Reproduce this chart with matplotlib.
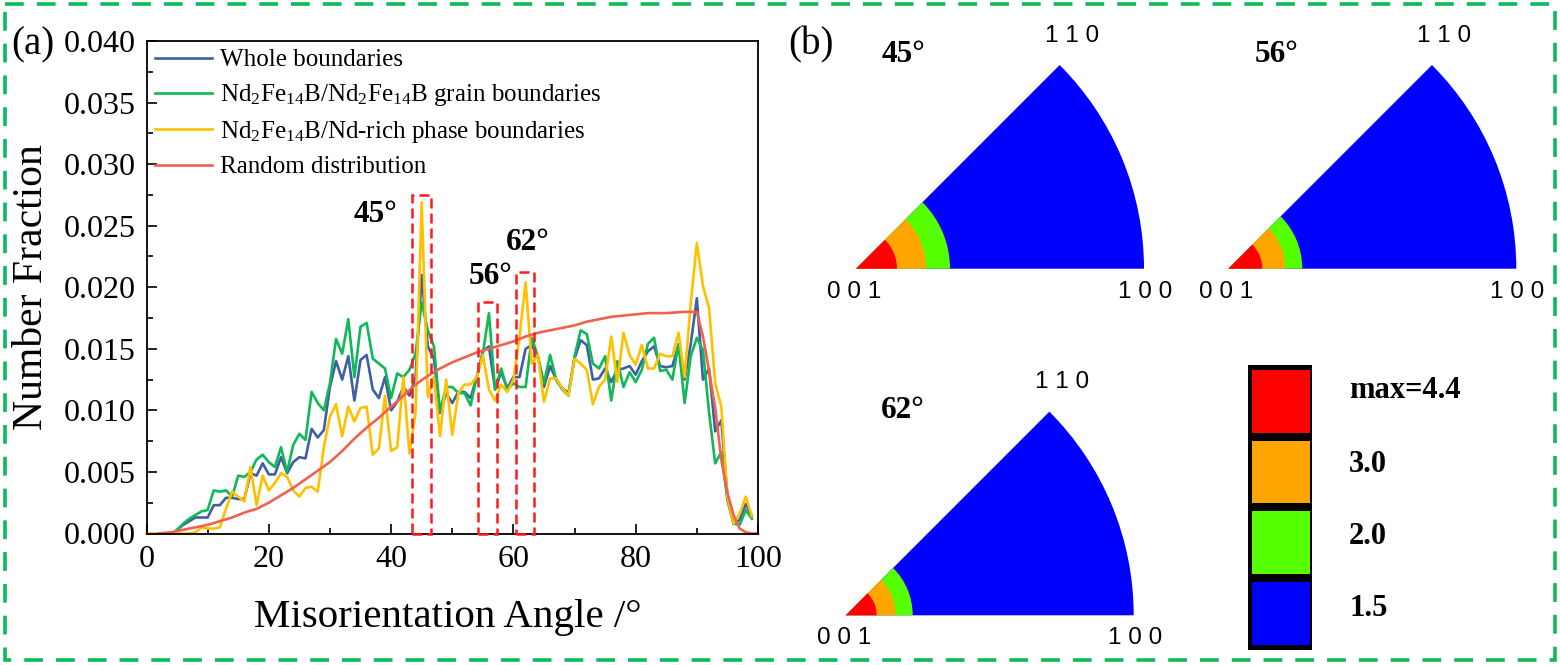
import matplotlib
matplotlib.use('Agg')
import matplotlib.pyplot as plt
from matplotlib.patches import Wedge, Rectangle
import numpy as np

plt.rcParams['font.family'] = ['Liberation Serif', 'DejaVu Serif']
plt.rcParams['mathtext.fontset'] = 'stix'
plt.rcParams['mathtext.default'] = 'regular'

# misorientation angle in degrees, 1 degree bins
angle_whole = np.arange(5, 100)
angle_yellow = np.arange(0, 100)

whole = [.0003, .0007, .0010, .0013, .0013,
         .0013, .0023, .0023, .0029, .0029, .0028, .0028, .0049, .0047, .0057,
         .0048, .0048, .0062, .0049, .0058, .0062, .0061, .0085, .0078, .0084,
         .0119, .0140, .0125, .0144, .0108, .0141, .0145, .0117, .0110, .0127,
         .0100, .0107, .0119, .0112, .0127, .0210, .0152, .0142, .0098, .0114,
         .0106, .0115, .0115, .0110, .0127, .0148, .0152, .0117, .0131, .0118,
         .0127, .0127, .0150, .0153, .0144, .0119, .0136, .0125, .0118, .0114,
         .0142, .0157, .0153, .0125, .0126, .0134, .0123, .0133, .0134, .0136,
         .0129, .0140, .0148, .0152, .0136, .0135, .0136, .0153, .0125, .0154,
         .0191, .0125, .0134, .0083, .0092, .0030, .0008, .0011, .0024, .0014]

grain = [.0003, .0008, .0012, .0015, .0018,
         .0019, .0035, .0034, .0035, .0030, .0047, .0046, .0050, .0060, .0064,
         .0058, .0054, .0070, .0050, .0072, .0081, .0076, .0115, .0106, .0100,
         .0122, .0158, .0146, .0174, .0127, .0168, .0171, .0142, .0138, .0134,
         .0110, .0130, .0127, .0133, .0146, .0188, .0165, .0152, .0099, .0119,
         .0119, .0114, .0114, .0104, .0127, .0146, .0179, .0117, .0134, .0117,
         .0122, .0119, .0119, .0159, .0144, .0122, .0145, .0125, .0117, .0112,
         .0144, .0165, .0162, .0138, .0134, .0144, .0108, .0140, .0119, .0131,
         .0123, .0133, .0154, .0159, .0132, .0133, .0125, .0154, .0106, .0144,
         .0159, .0149, .0098, .0057, .0066, .0027, .0008, .0007, .0019, .0012]

phase = [0, 0, 0, 0, 0, 0, 0, 0, .0001, .0005,
         .0004, .0004, .0005, .0020, .0034, .0030, .0026, .0054, .0023, .0047,
         .0035, .0041, .0049, .0046, .0035, .0030, .0037, .0038, .0034, .0070,
         .0095, .0105, .0079, .0103, .0091, .0102, .0103, .0064, .0069, .0112,
         .0067, .0070, .0127, .0065, .0098, .0269, .0111, .0127, .0079, .0125,
         .0080, .0114, .0121, .0121, .0127, .0145, .0117, .0108, .0121, .0115,
         .0125, .0160, .0204, .0138, .0145, .0107, .0126, .0126, .0118, .0112,
         .0142, .0138, .0133, .0105, .0119, .0125, .0160, .0123, .0163, .0145,
         .0137, .0153, .0134, .0134, .0146, .0144, .0144, .0163, .0127, .0187,
         .0236, .0201, .0183, .0122, .0103, .0030, .0008, .0016, .0030, .0014]

random_angle = [2, 4, 6, 8, 10, 12, 14, 16, 18, 20, 22, 24, 26, 28, 30, 32, 34, 36, 38,
                40, 42, 44, 46, 48, 50, 52, 54, 56, 58, 60, 62, 64, 66, 68, 70, 72, 74,
                76, 78, 80, 82, 85, 88, 90, 91, 92, 93, 94, 95, 96, 97, 98, 99, 100]
random_dist = [0, .0001, .0003, .0005, .0007, .0010, .0013, .0017, .0020, .0025,
               .0031, .0037, .0044, .0051, .0058, .0067, .0077, .0086, .0094, .0103,
               .0112, .0121, .0128, .0134, .0139, .0143, .0147, .0150, .0153, .0156,
               .0160, .0163, .0165, .0167, .0169, .0172, .0174, .0176, .0177, .0178,
               .0179, .0179, .0180, .0180, .0160, .0132, .0102, .0060, .0033, .0015,
               .0004, .0001, 0, 0]

series_labels = ['Whole boundaries',
                 'Nd$_2$Fe$_{14}$B/Nd$_2$Fe$_{14}$B grain boundaries',
                 'Nd$_2$Fe$_{14}$B/Nd-rich phase boundaries',
                 'Random distribution']
series_colors = ['#3f5fa5', '#10b858', '#ffc000', '#f0614f']

# peak windows: left, right, top
peak_boxes = [(43.4, 46.6, .0275), (54.2, 57.3, .0188), (60.4, 63.4, .0212)]

# pole figures: origin x, origin y, red, orange, green radius (pixels)
pole_names = ['45°', '56°', '62°']
pole_shapes = [(856, 268.7, 41, 70, 94), (1228.3, 268.7, 34, 57, 74), (845.7, 615.3, 31, 50, 67)]
pole_title_pos = [(904, 55), (1277, 55), (903, 410)]
pole_r = 288

scale_labels = ['max=4.4', '3.0', '2.0', '1.5']
scale_colors = ['#ff0000', '#ffa500', '#55ff00', '#0000ff']

W, H = 1560, 665
fig = plt.figure(figsize=(W/100, H/100), dpi=100, facecolor='white')

# PANEL A
ax = fig.add_axes([146.5/W, 1-533.5/H, (758-146.5)/W, (533.5-41)/H])
ax.plot(angle_whole, whole, color=series_colors[0], lw=1.9, label=series_labels[0])
ax.plot(angle_whole, grain, color=series_colors[1], lw=1.9, label=series_labels[1])
ax.plot(angle_yellow, phase, color=series_colors[2], lw=1.9, label=series_labels[2], clip_on=False)
ax.plot(random_angle, random_dist, color=series_colors[3], lw=1.9, label=series_labels[3], clip_on=False)

for left, right, top in peak_boxes:
    ax.add_patch(Rectangle((left, 0), right-left, top, fill=False, edgecolor='#ff1a1a',
                           lw=1.8, ls=(0, (4, 2)), clip_on=False, zorder=5))

ax.set_xlim(0, 100)
ax.set_ylim(0, 0.04)
ax.set_xticks(np.arange(0, 101, 20))
ax.set_xticks(np.arange(10, 100, 20), minor=True)
ax.set_yticks(np.arange(0, 0.0401, 0.005))
ax.set_yticks(np.arange(0.0025, 0.04, 0.005), minor=True)
ax.set_yticklabels(['%.3f' % v for v in np.arange(0, 0.0401, 0.005)])
ax.tick_params(which='major', direction='in', length=7.5, width=1.2, labelsize=23, pad=8)
ax.tick_params(which='minor', direction='in', length=4.5, width=1.2)
for s in ax.spines.values():
    s.set_linewidth(1.3)

ax.legend(loc='upper left', bbox_to_anchor=(0.0, 1.0), frameon=False, fontsize=18,
          handlelength=2.3, handletextpad=0.3, labelspacing=0.43,
          borderaxespad=0.2, borderpad=0.12)

# PANEL B and everything placed in pixels
ov = fig.add_axes([0, 0, 1, 1], facecolor='none')
ov.set_xlim(0, W)
ov.set_ylim(H, 0)
ov.axis('off')

# outer dashed frame
ov.add_patch(Rectangle((5, 4), 1550, 656, fill=False, edgecolor='#0cba5a', lw=2.6,
                       ls=(0, (5.2, 3.6))))

for (x0, y0, r1, r2, r3), name, (tx, ty) in zip(pole_shapes, pole_names, pole_title_pos):
    radii = [pole_r, r3, r2, r1]
    cols = ['#0000ff', '#55ff00', '#ffa500', '#ff0000']
    for r, c in zip(radii, cols):
        ov.add_patch(Wedge((x0, y0), r, -45, 0, facecolor=c, edgecolor='none'))
    ov.text(x0-2, y0+23, '0 0 1', ha='center', va='center', fontsize=17.5, family='Liberation Sans')
    ov.text(x0+pole_r+1, y0+23, '1 0 0', ha='center', va='center', fontsize=17.5, family='Liberation Sans')
    ov.text(x0+pole_r*np.cos(np.pi/4)+12.5, y0-pole_r*np.sin(np.pi/4)-29.5, '1 1 0', ha='center', va='center',
            fontsize=17.5, family='Liberation Sans')
    ov.text(tx, ty, name, ha='center', va='center', fontsize=22.5, fontweight='bold')

# colour scale
ov.add_patch(Rectangle((1248, 365), 64, 285, facecolor='black', edgecolor='none'))
for y0, y1, c, lab, ty in zip([370, 441, 511, 582], [433, 503, 574, 645], scale_colors,
                              scale_labels, [391, 465, 537, 608]):
    ov.add_patch(Rectangle((1252, y0), 58, y1-y0, facecolor=c, edgecolor='none'))
    ov.text(1349, ty, lab, ha='left', va='center', fontsize=22, fontweight='bold')

ov.text(33, 45, '(a)', ha='center', va='center', fontsize=28)
ov.text(811, 45, '(b)', ha='center', va='center', fontsize=28)
ov.text(376, 215, '45°', ha='center', va='center', fontsize=22.5, fontweight='bold')
ov.text(491, 276, '56°', ha='center', va='center', fontsize=22.5, fontweight='bold')
ov.text(528, 242, '62°', ha='center', va='center', fontsize=22.5, fontweight='bold')
ov.text(448, 618, 'Misorientation Angle /°', ha='center', va='center', fontsize=29.5)
ov.text(32, 287.5, 'Number Fraction', ha='center', va='center', rotation=90, fontsize=30)

fig.savefig('out.png', dpi=100)
